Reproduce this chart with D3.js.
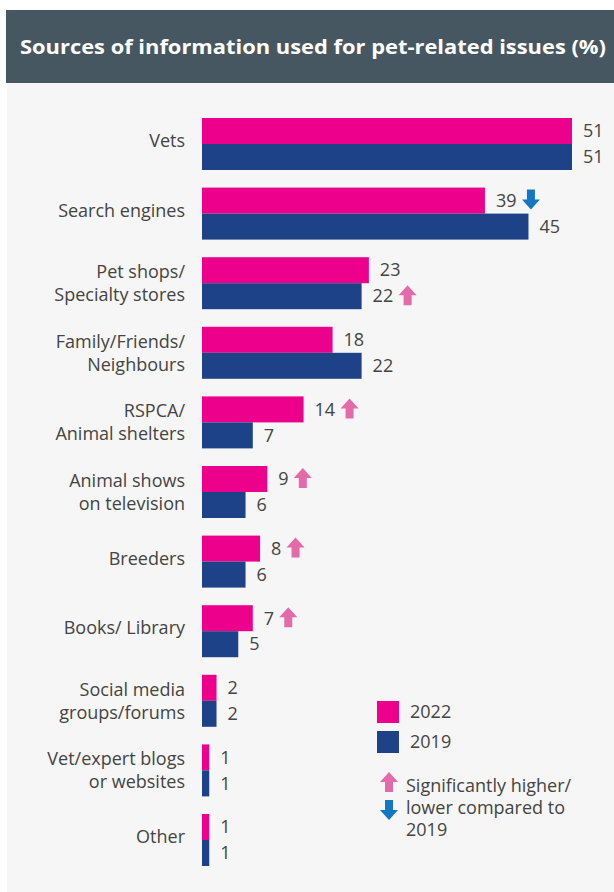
<!DOCTYPE html>
<html>
<head>
<meta charset="utf-8">
<script src="https://cdn.jsdelivr.net/npm/d3@7"></script>
<style>
  html, body { margin: 0; padding: 0; background: #ffffff; }
  svg { display: block; font-family: "Open Sans", "Noto Sans", sans-serif; }
</style>
</head>
<body>
<div id="chart"></div>
<script>
//Datos
const categories = [
    ['Vets'],
    ['Search engines'],
    ['Pet shops/', 'Specialty stores'],
    ['Family/Friends/', 'Neighbours'],
    ['RSPCA/', 'Animal shelters'],
    ['Animal shows', 'on television'],
    ['Breeders'],
    ['Books/ Library'],
    ['Social media', 'groups/forums'],
    ['Vet/expert blogs', 'or websites'],
    ['Other']
];
const series = ['2022', '2019'];
const values2022 = [51, 39, 23, 18, 14, 9, 8, 7, 2, 1, 1];
const values2019 = [51, 45, 22, 22, 7, 6, 6, 5, 2, 1, 1];
// marcadores de significancia ('up' = mayor, 'down' = menor vs 2019)
const sig2022 = ['', 'down', '', '', 'up', 'up', 'up', 'up', '', '', ''];
const sig2019 = ['', '', 'up', '', '', '', '', '', '', '', ''];
const legendNote = ['Significantly higher/', 'lower compared to', '2019'];
const titleText = 'Sources of information used for pet-related issues (%)';

//Colores
const COLOR_2022 = '#EC008C',
    COLOR_2019 = '#1D4287',
    COLOR_UP = '#E46AA9',
    COLOR_DOWN = '#1577C2',
    COLOR_TEXT = '#444444',
    COLOR_HEADER = '#475761',
    COLOR_BG = '#F6F6F6';

const width = 614, height = 892;
const FS = 18;

let svg = d3.select('#chart')
    .append('svg')
    .attr('width', width)
    .attr('height', height);

//Fondo y cabecera
svg.append('rect')
    .attr('x', 7).attr('y', 83)
    .attr('width', width - 7).attr('height', height - 83)
    .attr('fill', COLOR_BG);

svg.append('rect')
    .attr('x', 6).attr('y', 10)
    .attr('width', width - 6).attr('height', 73)
    .attr('fill', COLOR_HEADER);

svg.append('text')
    .attr('x', 313).attr('y', 54)
    .attr('text-anchor', 'middle')
    .attr('fill', '#ffffff')
    .attr('font-size', 19)
    .attr('font-weight', 700)
    .attr('textLength', 586)
    .attr('lengthAdjust', 'spacingAndGlyphs')
    .text(titleText);

//Escalas
let data = categories.map(function(c, i) {
    return {
        idx: i,
        lines: c,
        vals: { '2022': values2022[i], '2019': values2019[i] },
        sig: { '2022': sig2022[i], '2019': sig2019[i] }
    };
});

let y = d3.scaleBand()
    .domain(d3.range(categories.length))
    .range([118, 866])
    .paddingInner(0.253)
    .paddingOuter(0);

let ySub = d3.scaleBand()
    .domain(series)
    .range([0, y.bandwidth()]);

let x = d3.scaleLinear()
    .domain([0, 51])
    .range([202, 572]);

let color = d3.scaleOrdinal()
    .domain(series)
    .range([COLOR_2022, COLOR_2019]);

//Etiquetas de categoría
let groups = svg.append('g')
    .selectAll('g')
    .data(data)
    .enter()
    .append('g')
    .attr('transform', function(d) { return 'translate(0,' + y(d.idx) + ')'; });

groups.append('text')
    .attr('text-anchor', 'end')
    .attr('fill', COLOR_TEXT)
    .attr('font-size', FS)
    .each(function(d) {
        let t = d3.select(this);
        let n = d.lines.length;
        let lh = 23;
        let off = n === 1 ? -3 : 0;
        d.lines.forEach(function(l, k) {
            t.append('tspan')
                .attr('x', 185)
                .attr('y', y.bandwidth() / 2 + off + (k - (n - 1) / 2) * lh)
                .attr('dy', '0.35em')
                .text(l);
        });
    });

//Barras
let bars = groups.selectAll('g.bar')
    .data(function(d) {
        return series.map(function(s) { return { key: s, value: d.vals[s], sig: d.sig[s] }; });
    })
    .enter()
    .append('g')
    .attr('class', 'bar')
    .attr('transform', function(d) { return 'translate(0,' + ySub(d.key) + ')'; });

bars.append('rect')
    .attr('x', x(0))
    .attr('y', 0)
    .attr('width', function(d) { return x(d.value) - x(0); })
    .attr('height', ySub.bandwidth())
    .attr('fill', function(d) { return color(d.key); });

bars.append('text')
    .attr('x', function(d) { return x(d.value) + 11; })
    .attr('y', ySub.bandwidth() / 2)
    .attr('dy', '0.35em')
    .attr('fill', COLOR_TEXT)
    .attr('font-size', FS)
    .text(function(d) { return d.value; });

//Flechas
function arrowPath(dir) {
    // flecha de 18 de ancho, 20 de alto, centrada en (0,0)
    if (dir === 'up') {
        return 'M0,-10 L9,0 L4,0 L4,10 L-4,10 L-4,0 L-9,0 Z';
    }
    return 'M0,10 L9,0 L4,0 L4,-10 L-4,-10 L-4,0 L-9,0 Z';
}

bars.filter(function(d) { return d.sig !== ''; })
    .append('path')
    .attr('d', function(d) { return arrowPath(d.sig); })
    .attr('fill', function(d) { return d.sig === 'up' ? COLOR_UP : COLOR_DOWN; })
    .attr('transform', function(d) {
        let w = String(d.value).length * 10.5;
        return 'translate(' + (x(d.value) + 11 + w + 14) + ',' + (ySub.bandwidth() / 2 - 1) + ')';
    });

//Leyenda
let legend = svg.append('g');

series.forEach(function(s, i) {
    legend.append('rect')
        .attr('x', 377).attr('y', 701 + i * 30)
        .attr('width', 22).attr('height', 22)
        .attr('fill', color(s));
    legend.append('text')
        .attr('x', 410).attr('y', 712 + i * 30)
        .attr('dy', '0.35em')
        .attr('fill', COLOR_TEXT)
        .attr('font-size', FS)
        .text(s);
});

legend.append('path')
    .attr('d', arrowPath('up'))
    .attr('fill', COLOR_UP)
    .attr('transform', 'translate(389,782)');
legend.append('path')
    .attr('d', arrowPath('down'))
    .attr('fill', COLOR_DOWN)
    .attr('transform', 'translate(389,810)');

legendNote.forEach(function(l, k) {
    legend.append('text')
        .attr('x', 406).attr('y', 786 + k * 22)
        .attr('dy', '0.35em')
        .attr('fill', COLOR_TEXT)
        .attr('font-size', FS)
        .text(l);
});
</script>
</body>
</html>
